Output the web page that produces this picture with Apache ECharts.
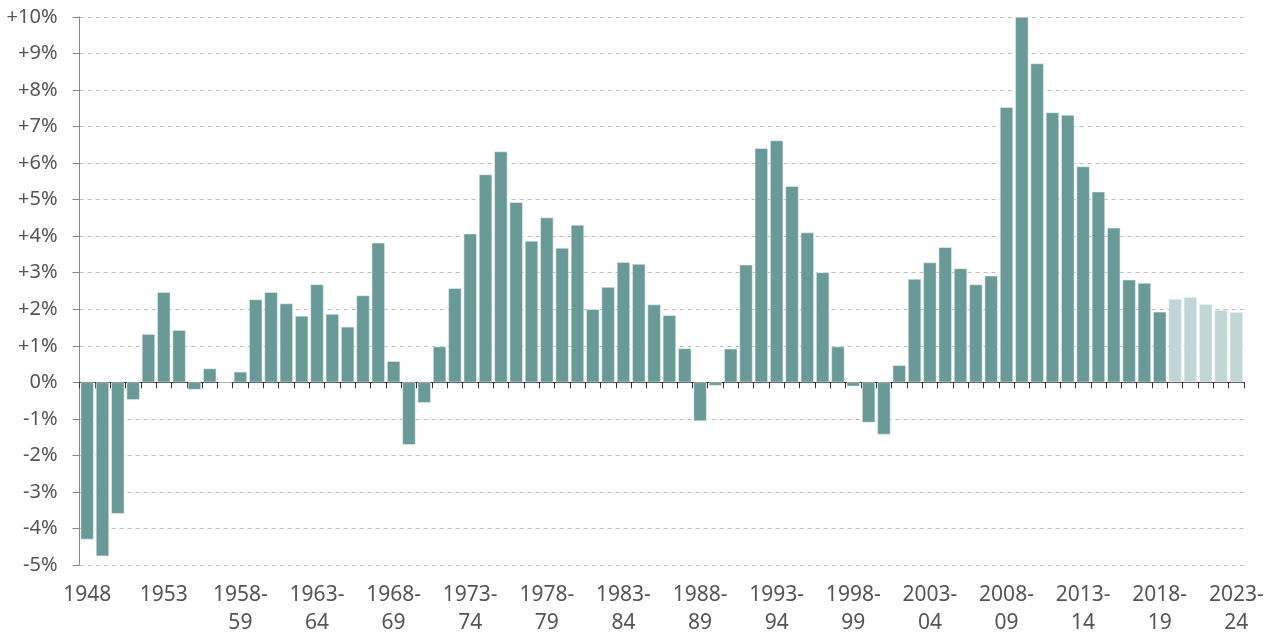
<!DOCTYPE html>
<html><head><meta charset="utf-8">
<script src="https://cdn.jsdelivr.net/npm/echarts@6/dist/echarts.min.js"></script>
<style>html,body{margin:0;padding:0;background:#fff}#c{width:1274px;height:637px}</style>
</head><body><div id="c"></div>
<script>
var categories = ["1948","1949","1950","1951","1952","1953","1954","1955","1956","1957",
"1958-59","1959-60","1960-61","1961-62","1962-63","1963-64","1964-65","1965-66","1966-67","1967-68",
"1968-69","1969-70","1970-71","1971-72","1972-73","1973-74","1974-75","1975-76","1976-77","1977-78",
"1978-79","1979-80","1980-81","1981-82","1982-83","1983-84","1984-85","1985-86","1986-87","1987-88",
"1988-89","1989-90","1990-91","1991-92","1992-93","1993-94","1994-95","1995-96","1996-97","1997-98",
"1998-99","1999-00","2000-01","2001-02","2002-03","2003-04","2004-05","2005-06","2006-07","2007-08",
"2008-09","2009-10","2010-11","2011-12","2012-13","2013-14","2014-15","2015-16","2016-17","2017-18",
"2018-19","2019-20","2020-21","2021-22","2022-23","2023-24"];
var values = [-4.3,-4.76,-3.6,-0.48,1.32,2.47,1.43,-0.2,0.38,0,
0.29,2.27,2.47,2.16,1.82,2.68,1.87,1.52,2.38,3.82,
0.58,-1.71,-0.56,0.98,2.58,4.07,5.69,6.32,4.93,3.87,
4.51,3.68,4.31,2.0,2.61,3.29,3.24,2.13,1.84,0.93,
-1.06,-0.09,0.92,3.22,6.41,6.62,5.37,4.1,3.01,0.98,
-0.11,-1.1,-1.43,0.47,2.83,3.28,3.7,3.12,2.68,2.92,
7.53,10.0,8.73,7.39,7.32,5.91,5.22,4.23,2.81,2.72,
1.93,2.28,2.33,2.14,1.98,1.92];
var forecastFrom = 71;
var yTicks = {min:-5, max:10, interval:1};
var darkColor = '#6a9a98', lightColor = '#c2d7d5';

var chart = echarts.init(document.getElementById('c'), null, {renderer:'canvas'});
chart.setOption({
  animation:false,
  grid:{left:79.5, right:30, top:17, bottom:72, containLabel:false, outerBoundsMode:'none'},
  xAxis:[{
    type:'category', data:categories, boundaryGap:true,
    axisLine:{onZero:true, lineStyle:{color:'#333', width:1.2}},
    axisTick:{show:true, alignWithLabel:false, interval:0, length:6, lineStyle:{color:'#333'}},
    axisLabel:{show:false},
    splitLine:{show:false}
  },{
    type:'category', data:categories, boundaryGap:true, position:'bottom',
    axisLine:{show:false, onZero:false}, axisTick:{show:false},
    axisLabel:{interval:4, color:'#555', fontSize:21, fontFamily:'Noto Sans', lineHeight:28, margin:16,
      formatter:function(v){var p=v.split('-'); return p.length>1 ? p[0]+'-\n'+p[1] : v;}},
    splitLine:{show:false}
  }],
  yAxis:{
    type:'value', min:yTicks.min, max:yTicks.max, interval:yTicks.interval,
    axisLine:{show:true, lineStyle:{color:'#888'}},
    axisTick:{show:true, length:7, lineStyle:{color:'#888'}},
    axisLabel:{color:'#555', fontSize:20, fontFamily:'Noto Sans', margin:22,
      formatter:function(v){return (v>0?'+':'')+v+'%';}},
    splitLine:{show:true, lineStyle:{color:'#bbb', type:[4,4], width:1}}
  },
  series:[{
    type:'bar', barCategoryGap:'14%', xAxisIndex:0,
    data:values.map(function(v,i){return {value:v, itemStyle:{color: i>=forecastFrom?lightColor:darkColor}};}),
    itemStyle:{borderColor:'rgba(235,244,243,0.9)', borderWidth:0.6}
  }]
});
</script></body></html>
